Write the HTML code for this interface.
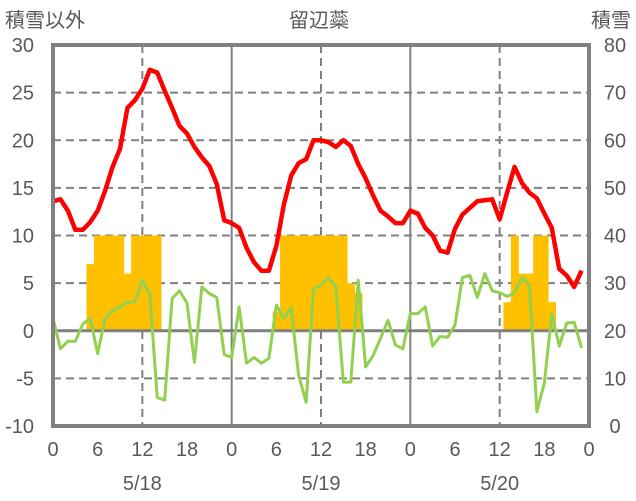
<!DOCTYPE html>
<html><head><meta charset="utf-8"><style>
html,body{margin:0;padding:0;background:#fff;}
svg{display:block;font-family:"Liberation Sans","Noto Sans CJK JP",sans-serif;}
</style></head><body>
<svg id="chart" width="636" height="501" viewBox="0 0 636 501">
<g id="grid"></g>
<g id="bars"></g>
<g id="grid2"></g>
<g id="lines"></g>
<g id="frame"></g>
<g id="labels" fill="#595959" font-size="20"></g>
</svg>
<script>
const redSeries=[13.6,13.8,12.6,10.6,10.6,11.4,12.6,14.7,17.2,19.1,23.4,24.2,25.4,27.4,27.1,25.2,23.4,21.5,20.7,19.3,18.2,17.3,15.4,11.6,
11.3,10.8,8.7,7.2,6.3,6.3,8.9,13.2,16.3,17.6,18.0,20.0,20.0,19.8,19.3,20.0,19.4,17.5,16.0,14.2,12.6,12.0,11.3,11.3,
12.6,12.3,10.8,10.0,8.4,8.2,10.7,12.2,12.9,13.6,13.7,13.8,11.7,14.5,17.2,15.5,14.5,13.9,12.3,10.8,6.5,5.8,4.6,6.3];
const greenSeries=[1.3,-1.9,-1.1,-1.1,0.7,1.3,-2.4,1.3,2.1,2.5,3.0,3.0,5.3,3.9,-7.0,-7.3,3.4,4.2,2.9,-3.3,4.6,3.9,3.5,-2.5,
-2.8,2.5,-3.4,-2.8,-3.4,-2.9,2.7,1.3,2.4,-4.7,-7.5,4.4,4.8,5.6,4.6,-5.4,-5.4,5.3,-3.8,-2.6,-0.8,1.1,-1.5,-1.9,
1.8,1.8,2.5,-1.6,-0.6,-0.7,0.6,5.6,5.8,3.5,6.0,4.2,4.0,3.6,4.0,5.6,4.8,-8.5,-5.5,1.8,-1.6,0.8,0.9,-1.8];
const snowSeries=[0,0,0,0,0,34,40,40,40,40,32,40,40,40,40,0,0,0,0,0,0,0,0,0,
0,0,0,0,0,0,24,40,40,40,40,40,40,40,40,40,30,28,0,0,0,0,0,0,
0,0,0,0,0,0,0,0,0,0,0,0,0,26,40,32,32,40,40,26,0,0,0,0];
const leftTicks=[30,25,20,15,10,5,0,-5,-10];
const rightTicks=[80,70,60,50,40,30,20,10,0];
const hourTicks=[0,6,12,18,24,30,36,42,48,54,60,66,72];
const hourTickLabels=["0","6","12","18","0","6","12","18","0","6","12","18","0"];
const dateLabels=["5/18","5/19","5/20"];

const X0=53,X1=589,Y0=45,Y1=426;
const xs=h=>X0+(X1-X0)*h/72;
const yl=v=>Y1-(Y1-Y0)*(v+10)/40;
const yr=v=>Y1-(Y1-Y0)*v/80;
const NS="http://www.w3.org/2000/svg";
function mk(tag,attrs,parent){const e=document.createElementNS(NS,tag);for(const k in attrs)e.setAttribute(k,attrs[k]);parent.appendChild(e);return e;}
const grid=document.getElementById('grid'),grid2=document.getElementById('grid2'),bars=document.getElementById('bars'),lines=document.getElementById('lines'),frame=document.getElementById('frame'),labels=document.getElementById('labels');

leftTicks.forEach(v=>{if(v===30||v===-10)return;
 const l=mk('line',{x1:X0,x2:X1,y1:yl(v),y2:yl(v),stroke:'#808080','stroke-width':v===0?3:2,'stroke-dasharray':v===0?'none':'8 5'},v===0?grid2:grid);
 
 });
[12,36,60].forEach(h=>{const l=mk('line',{x1:xs(h),x2:xs(h),y1:Y0,y2:Y1,stroke:'#7f7f7f','stroke-width':2,'stroke-dasharray':'8 5'},grid);
 
 });
[24,48].forEach(h=>{const l=mk('line',{x1:xs(h),x2:xs(h),y1:Y0,y2:Y1,stroke:'#808080','stroke-width':2},grid);
 
 });

const bw=(X1-X0)/72;
const base=yl(0);
snowSeries.forEach((v,i)=>{if(!v)return;
 const r=mk('rect',{x:xs(i)-bw/2,y:yr(v),width:bw+0.5,height:Math.max(0,base-yr(v)),fill:'#ffc000'},bars);
 
 });

function poly(arr,color,w,name){const p=mk('polyline',{points:arr.map((v,i)=>xs(i)+','+yl(v)).join(' '),fill:'none',stroke:color,'stroke-width':w,'stroke-linejoin':'round'},lines);
 
 }
poly(greenSeries,'#92d050',3,'green-series-line');
poly(redSeries,'#ff0000',4.5,'red-series-line');

const f=mk('rect',{x:X0,y:Y0,width:X1-X0,height:Y1-Y0,fill:'none',stroke:'#808080','stroke-width':4},frame);



function txt(s,x,y,anchor,name,size){const t=mk('text',{x:x,y:y,'text-anchor':anchor},labels);if(size)t.setAttribute('font-size',size);t.textContent=s;
 
 return t;}
leftTicks.forEach(v=>txt(String(v),34,yl(v)+7,'end','y-left-tick'));
rightTicks.forEach(v=>txt(String(v),615,yr(v)+7,'middle','y-right-tick'));
hourTicks.forEach((h,i)=>txt(hourTickLabels[i],xs(h),456,'middle','x-hour-tick'));
dateLabels.forEach((d,i)=>txt(d,xs(12+24*i),490,'middle','x-date-label'));
txt('積雪以外',5,27,'start','y-left-title');
txt('積雪',631,27,'end','y-right-title');
txt('留辺蘂',319,27,'middle','chart-title');
</script>
</body></html>
